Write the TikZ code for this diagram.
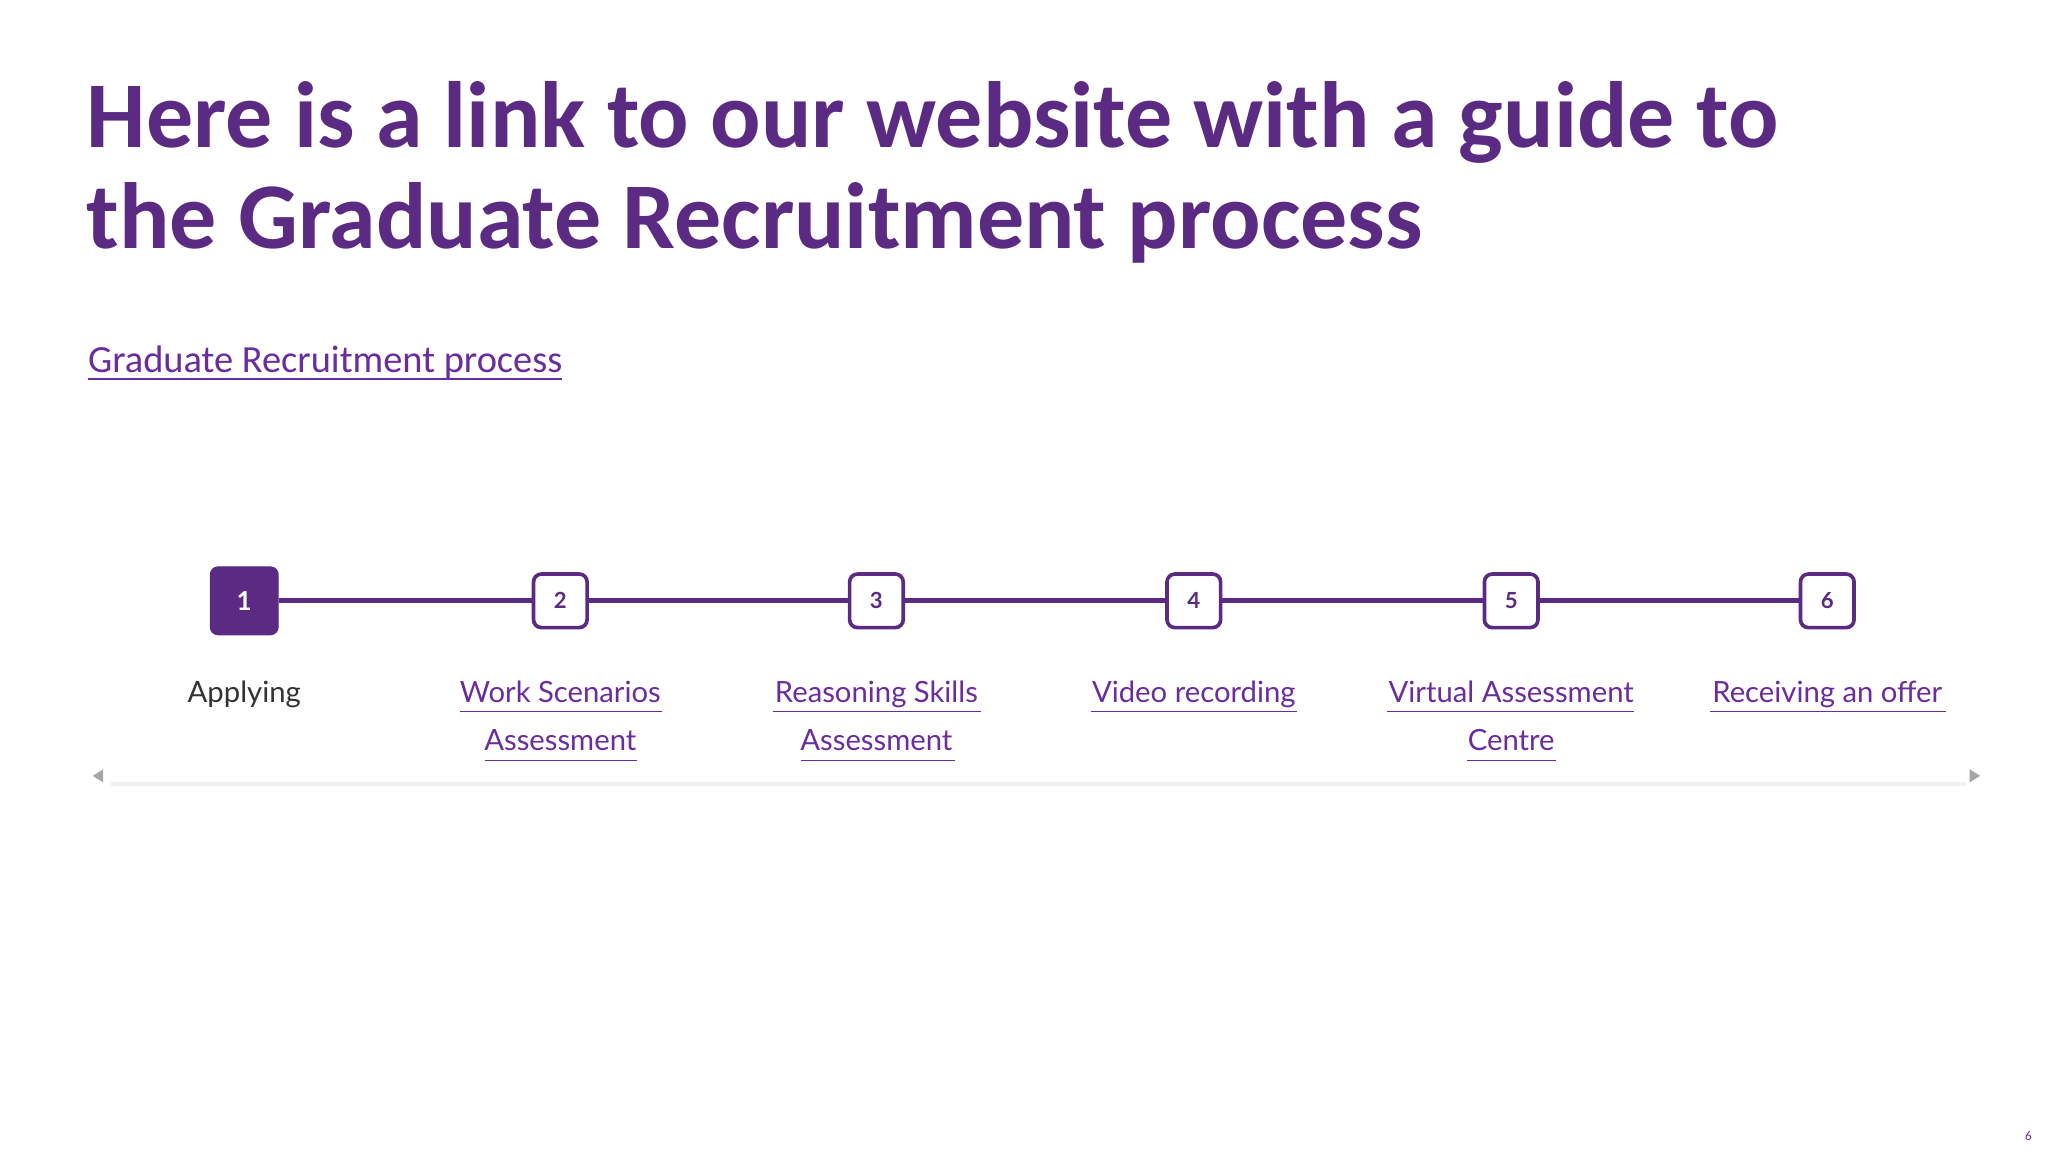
\documentclass[tikz,border=0pt]{standalone}
\usepackage{fontspec}
\setmainfont{Carlito}
\newfontfamily\stepfont{Lato}
\definecolor{ttl}{HTML}{5B2A82}
\definecolor{lnk}{HTML}{6A2C9E}
\definecolor{bar}{HTML}{5B2A82}
\begin{document}
\begin{tikzpicture}[x=0.5pt,y=-0.5pt,
  stepbox/.style={draw=bar,line width=1.4pt,rounded corners=3pt,fill=white,minimum size=20.5pt,inner sep=0pt,font=\stepfont\bfseries\fontsize{8.5}{10}\selectfont,text=bar},
  firstbox/.style={fill=bar,draw=bar,rounded corners=3pt,minimum size=26pt,inner sep=0pt,font=\stepfont\bfseries\fontsize{10}{12}\selectfont,text=white},
  lab/.style={font=\stepfont\fontsize{11.2}{18.5}\selectfont,text=lnk,align=center,anchor=north},
  ul/.style={draw=lnk,line width=0.5pt}]
\useasboundingbox (0,0) rectangle (1568,882);
\node[anchor=north west,inner sep=0pt,align=left,text=ttl,font=\bfseries\fontsize{36}{38.5}\selectfont] (title) at (66,62) {Here is a link to our website with a guide to\\the Graduate Recruitment process};
\node[anchor=base west,inner sep=0pt,text=lnk,font=\fontsize{14.7}{16}\selectfont] (link) at (67,285) {Graduate Recruitment process};
\draw[lnk,line width=0.6pt] (67,290) -- (430,290);
\node[firstbox] (b1) at (187,460) {1};
\node[stepbox] (b2) at (429,460) {2};
\node[stepbox] (b3) at (671,460) {3};
\node[stepbox] (b4) at (914,460) {4};
\node[stepbox] (b5) at (1157,460) {5};
\node[stepbox] (b6) at (1399,460) {6};
\foreach \a/\b in {b1/b2,b2/b3,b3/b4,b4/b5,b5/b6}
  \draw[bar,line width=2pt] (\a) -- (\b);
\node[lab,text=black!80] (l1) at (187,514) {Applying};
\node[lab] (l2) at (429,514) {Work Scenarios\\Assessment};
\node[lab] (l3) at (671,514) {Reasoning Skills\\Assessment};
\node[lab] (l4) at (914,514) {Video recording};
\node[lab] (l5) at (1157,514) {Virtual Assessment\\Centre};
\node[lab] (l6) at (1399,514) {Receiving an offer};
\draw[ul] (352,545)--(507,545) (371,582)--(488,582);
\draw[ul] (592,545)--(751,545) (613,582)--(731,582);
\draw[ul] (835,545)--(993,545);
\draw[ul] (1062,545)--(1251,545) (1123,582)--(1191,582);
\draw[ul] (1309,545)--(1490,545);
\draw[black!6,line width=1.5pt] (85,600) -- (1505,600);
\fill[gray!70] (71,594) -- (79,589) -- (79,599) -- cycle;
\fill[gray!70] (1516,594) -- (1508,589) -- (1508,599) -- cycle;
\node[text=lnk,font=\fontsize{5}{6}\selectfont,inner sep=0pt] (pg) at (1553,870) {6};
\end{tikzpicture}
\end{document}
